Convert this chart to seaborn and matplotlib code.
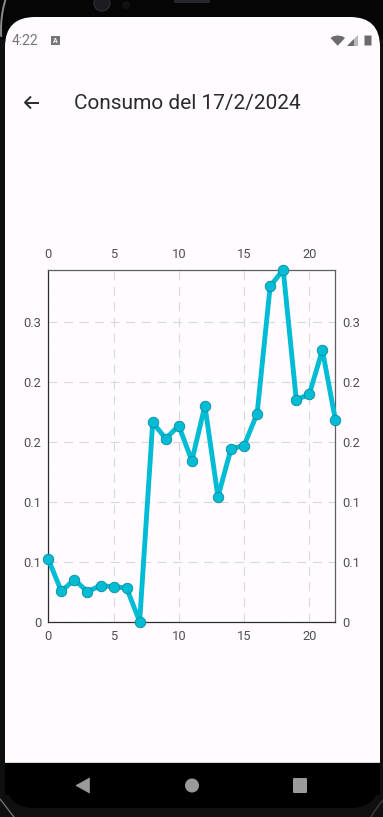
import matplotlib
matplotlib.use("Agg")
import matplotlib.pyplot as plt
from matplotlib.patches import FancyBboxPatch, Polygon, Circle, Rectangle, Arc
import pandas as pd
import seaborn as sns

hours = list(range(23))
consumo = [0.052, 0.0253, 0.035, 0.025, 0.030, 0.029, 0.028, 0.0, 0.166, 0.1525, 0.1633, 0.134,
           0.180, 0.104, 0.144, 0.1467, 0.1733, 0.2794, 0.2933, 0.185, 0.1894, 0.2264, 0.168]
x_ticks = [0, 5, 10, 15, 20]
y_ticks = [0, 0.05, 0.10, 0.15, 0.20, 0.25]
y_labels = ["0", "0.1", "0.1", "0.2", "0.2", "0.3"]
title = "Consumo del 17/2/2024"
clock = "4:22"

W, H = 383, 817
SCREEN = "#FFFBFE"
FRAME = "#0f0f10"
sns.set_theme(style="white")
plt.rcParams["font.family"] = ["Roboto", "DejaVu Sans"]

fig = plt.figure(figsize=(W / 100, H / 100), dpi=100, facecolor=FRAME)

# Device background in pixel coordinates
bg = fig.add_axes([0, 0, 1, 1], zorder=0)
bg.set_xlim(0, W); bg.set_ylim(H, 0); bg.axis("off")
r = 30
# black inner panel with rounded bottom corners
bg.add_patch(FancyBboxPatch((5 + r, 0 + r), 375 - 2 * r, 808 - 2 * r, boxstyle=f"round,pad={r},rounding_size={r}",
                            fc="black", ec="none"))
bg.add_patch(Rectangle((0, 0), W, 40, fc="#050505", ec="none"))
# screen with rounded top corners
bg.add_patch(FancyBboxPatch((5 + r, 17 + r), 375 - 2 * r, 746 - r, boxstyle=f"round,pad={r},rounding_size={r}",
                            fc=SCREEN, ec="none"))
bg.add_patch(Rectangle((5, 763), 375, 32, fc="black", ec="none"))
bg.add_patch(Rectangle((5, 762), 375, 1, fc="#d8d4da", ec="none"))

# Device edge highlights
bg.add_patch(Arc((40, 30), 78, 130, theta1=170, theta2=235, color="#8a8a8a", lw=1.4))
bg.plot([0, 4, 10, 14], [799, 804, 812, 817], color="#6f6f6f", lw=1.0)
bg.plot([383, 379, 374, 371], [800, 805, 812, 817], color="#3c3c3c", lw=1.0)

# Camera and speaker
bg.add_patch(Circle((102, 3), 8, fc="#1a1c22", ec="#2a2a30", lw=1))
bg.add_patch(Circle((126, 5), 4, fc="#111114", ec="none"))
bg.add_patch(FancyBboxPatch((175, -4), 34, 6, boxstyle="round,pad=1", fc="#26262b", ec="none"))

# Status bar
bg.text(12, 41, clock, color="#77757a", fontsize=10, va="center", ha="left")
bg.add_patch(Rectangle((51, 36), 9, 9, fc="#77757a", ec="none"))
bg.text(55.5, 40.5, "A", color="white", fontsize=5, va="center", ha="center", fontweight="bold")
bg.add_patch(Polygon([(330.5, 38), (333, 36.3), (337.7, 35.4), (342.5, 36.3), (345, 38), (337.7, 45.8)],
                     fc="#6d6b70", ec="none"))
bg.add_patch(Polygon([(346.5, 45.5), (358, 45.5), (358, 35)], fc="#b9b7bb", ec="none"))
bg.add_patch(Polygon([(346.5, 45.5), (353.5, 45.5), (353.5, 39)], fc="#6d6b70", ec="none"))
bg.add_patch(FancyBboxPatch((365, 36), 6, 9, boxstyle="round,pad=0.5", fc="#6d6b70", ec="none"))

# App bar
bg.plot([25, 38.5], [102.5, 102.5], color="#2b2930", lw=1.4, solid_capstyle="butt")
bg.plot([31, 25, 31], [96.5, 102.5, 108.5], color="#2b2930", lw=1.4, solid_capstyle="butt")
bg.text(73.5, 103, title, color="#2b2930", fontsize=15.03, va="center", ha="left")

# Navigation bar
bg.add_patch(Polygon([(76, 785.5), (89.5, 778), (89.5, 793)], fc="#9a9a9a", ec="#9a9a9a", lw=0.5, joinstyle="round"))
bg.add_patch(Circle((192, 785.5), 7, fc="#9a9a9a", ec="none"))
bg.add_patch(FancyBboxPatch((294, 779), 12, 13, boxstyle="round,pad=1", fc="#9a9a9a", ec="none"))

# Chart
L, R, T, B = 48.3, 335.4, 269.7, 621.6
ax = fig.add_axes([L / W, 1 - B / H, (R - L) / W, (B - T) / H], zorder=2)
ax.patch.set_alpha(0)
df = pd.DataFrame({"hora": hours, "consumo": consumo})
sns.lineplot(data=df, x="hora", y="consumo", ax=ax, color="#00BCD4", lw=3.5, marker="o", ms=7.6,
             mfc="#00BCD4", mec="#12899b", mew=0.6, clip_on=False, zorder=5, errorbar=None)
ax.set_xlim(0, 22)
ax.set_ylim(0, 0.2933)
ax.set_xlabel(""); ax.set_ylabel("")
ax.set_xticks(x_ticks)
ax.set_yticks(y_ticks)
ax.set_yticklabels(y_labels)
ax.grid(True, color="#d9d7db", lw=0.8, ls=(0, (8, 6)))
ax.set_axisbelow(True)
ax.tick_params(axis="both", which="both", length=0, labelsize=9.3, labelcolor="#504e53", pad=6,
               top=True, bottom=True, left=True, right=True,
               labeltop=True, labelbottom=True, labelleft=True, labelright=True)
ax.tick_params(axis="y", pad=5)
ax.spines["left"].set_color("#2e2c30")
ax.spines["bottom"].set_color("#2e2c30")
ax.spines["top"].set_color("#5f5d62")
ax.spines["right"].set_color("#5f5d62")
for s in ax.spines.values():
    s.set_visible(True)
    s.set_linewidth(0.9)

fig.savefig("out.png", dpi=100, facecolor=fig.get_facecolor())
